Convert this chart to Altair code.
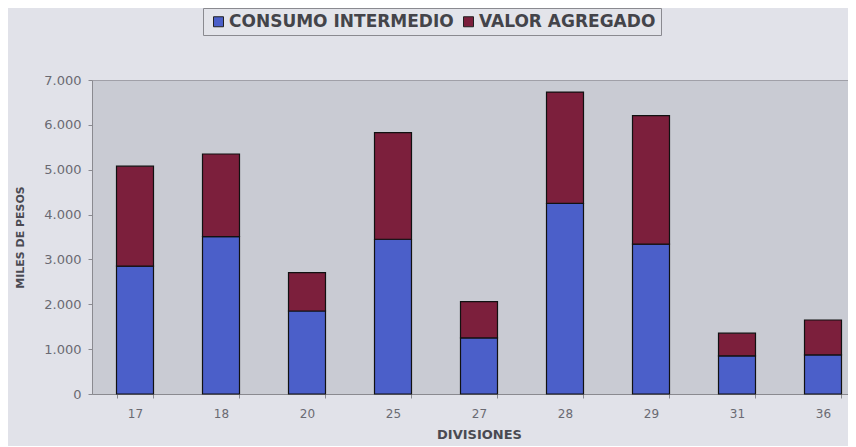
import altair as alt
import pandas as pd

divisiones = ["17", "18", "20", "25", "27", "28", "29", "31", "36"]
consumo_intermedio = [2850, 3510, 1850, 3450, 1250, 4250, 3340, 850, 870]
valor_agregado = [2230, 1840, 855, 2375, 810, 2480, 2865, 505, 780]
series = ["CONSUMO INTERMEDIO", "VALOR AGREGADO"]
colors = ["#4b5fc9", "#7c1f3c"]

rows = []
for i, d in enumerate(divisiones):
    rows.append({"div": d, "serie": series[0], "valor": consumo_intermedio[i], "orden": 0})
    rows.append({"div": d, "serie": series[1], "valor": valor_agregado[i], "orden": 1})
df = pd.DataFrame(rows)

font = "DejaVu Sans"

chart = alt.Chart(df).mark_bar(stroke="#111111", strokeWidth=1.2, size=37).encode(
    x=alt.X("div:N", sort=divisiones, title="DIVISIONES",
            scale=alt.Scale(range=[0, 774], paddingInner=0.57, paddingOuter=0.285),
            axis=alt.Axis(labelAngle=0, tickBand="extent", labelFontSize=12,
                          labelColor="#6a6a72", titleFontSize=13, titleFontWeight="bold",
                          titleColor="#4a4a52", domainColor="#8a8a90", tickColor="#8a8a90",
                          tickSize=4, labelPadding=10, titlePadding=9, labelFont=font,
                          titleFont=font)),
    y=alt.Y("valor:Q", stack="zero", title="MILES DE PESOS",
            scale=alt.Scale(domain=[0, 7000], nice=False),
            axis=alt.Axis(values=[0, 1000, 2000, 3000, 4000, 5000, 6000, 7000],
                          labelExpr="replace(format(datum.value, ','), ',', '.')",
                          grid=False, labelFontSize=13, labelColor="#6a6a72",
                          titleFontSize=11, titleFontWeight="bold", titleColor="#4a4a52",
                          domainColor="#8a8a90", tickColor="#8a8a90", tickSize=4,
                          labelPadding=7, titlePadding=18, labelFont=font, titleFont=font)),
    color=alt.Color("serie:N", scale=alt.Scale(domain=series, range=colors),
                    legend=alt.Legend(title=None, orient="none", direction="horizontal",
                                      legendX=111, legendY=-72, symbolType="square",
                                      symbolSize=100, symbolStrokeColor="#222222",
                                      symbolStrokeWidth=1, labelFontSize=17,
                                      labelFontWeight="bold",
                                      labelColor="#44444a", labelFont=font, labelLimit=0,
                                      strokeColor="#8a8a90", padding=5,
                                      columnPadding=4, symbolOffset=2, labelOffset=2,
                                      fillColor="#e3e4ea")),
    order=alt.Order("orden:Q", sort="ascending"),
).properties(
    width=756, height=314,
    autosize=alt.AutoSizeParams(type="none"),
    padding={"left": 84, "top": 72, "right": 0, "bottom": 52},
    background="#e1e2e9",
).configure_view(
    fill="#c9cbd3", stroke="#a0a0a8", strokeWidth=1
)

chart.save("out.html", embed_options={"renderer": "svg", "actions": False})
